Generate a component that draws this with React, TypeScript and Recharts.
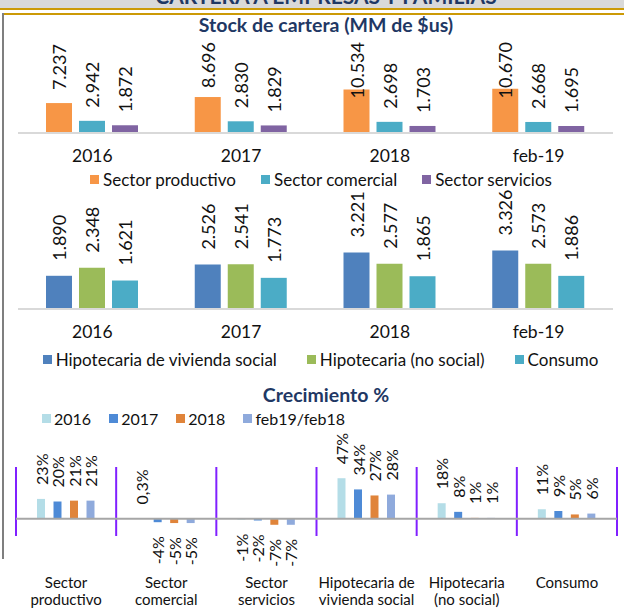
import React from 'react';
import { BarChart, Bar, XAxis, YAxis, CartesianGrid, ReferenceLine, LabelList } from 'recharts';

const FONT = 'Lato, "Open Sans", sans-serif';

// Stock de cartera (MM de $us)
const YEARS = ['2016', '2017', '2018', 'feb-19'];
const SECTOR_PRODUCTIVO = [7237, 8696, 10534, 10670];
const SECTOR_COMERCIAL = [2942, 2830, 2698, 2668];
const SECTOR_SERVICIOS = [1872, 1829, 1703, 1695];

const HIPOTECARIA_SOCIAL = [1890, 2526, 3221, 3326];
const HIPOTECARIA_NO_SOCIAL = [2348, 2541, 2577, 2573];
const CONSUMO = [1621, 1773, 1865, 1886];

// Crecimiento %
const CREC_CATS = [
  'Sector\nproductivo',
  'Sector\ncomercial',
  'Sector\nservicios',
  'Hipotecaria de\nvivienda social',
  'Hipotecaria\n(no social)',
  'Consumo',
];
const CREC_2016 = [23, 0.3, -1, 47, 18, 11];
const CREC_2017 = [20, -4, -2, 34, 8, 9];
const CREC_2018 = [21, -5, -7, 27, 1, 5];
const CREC_FEB = [21, -5, -7, 28, 1, 6];

const empresas = [
  { key: 'prod', name: 'Sector productivo', color: '#F79646', values: SECTOR_PRODUCTIVO },
  { key: 'com', name: 'Sector comercial', color: '#4BACC6', values: SECTOR_COMERCIAL },
  { key: 'serv', name: 'Sector servicios', color: '#8064A2', values: SECTOR_SERVICIOS },
];
const familias = [
  { key: 'social', name: 'Hipotecaria de vivienda social', color: '#4F81BD', values: HIPOTECARIA_SOCIAL },
  { key: 'noSocial', name: 'Hipotecaria (no social)', color: '#9BBB59', values: HIPOTECARIA_NO_SOCIAL },
  { key: 'consumo', name: 'Consumo', color: '#4BACC6', values: CONSUMO },
];
const crecimiento = [
  { key: 'y2016', name: '2016', color: '#B4DDE7', values: CREC_2016 },
  { key: 'y2017', name: '2017', color: '#4E8AD6', values: CREC_2017 },
  { key: 'y2018', name: '2018', color: '#E0843A', values: CREC_2018 },
  { key: 'feb', name: 'feb19/feb18', color: '#8FAADC', values: CREC_FEB },
];

const buildRows = (cats: string[], series: any[], catKey: string) =>
  cats.map((c, i) => {
    const row: any = { [catKey]: c };
    series.forEach((s) => (row[s.key] = s.values[i]));
    return row;
  });

const empresasData = buildRows(YEARS, empresas, 'year');
const familiasData = buildRows(YEARS, familias, 'year');
const crecData = buildRows(CREC_CATS, crecimiento, 'cat');

const fmtMiles = (v: number) => `${Math.floor(v / 1000)}.${String(v % 1000).padStart(3, '0')}`;
const fmtPct = (v: number) => `${String(v).replace('.', ',')}%`;

// rotated value label; clampTop keeps the text inside the plot top
const makeLabel = (fmt: (v: number) => string, gap: number, fontSize: number, clampTop?: number) =>
  (props: any) => {
    const x = Number(props.x);
    const y = Number(props.y);
    const w = Number(props.width);
    const h = Number(props.height);
    const v = Number(props.value);
    const cx = x + w / 2;
    const top = Math.min(y, y + h);
    const bottom = Math.max(y, y + h);
    const s = fmt(v);
    let ay = v >= 0 ? top - gap : bottom + gap;
    let anchor = v >= 0 ? 'start' : 'end';
    if (clampTop != null && v >= 0 && ay - s.length * fontSize * 0.52 < clampTop) {
      ay = clampTop;
      anchor = 'end';
    }
    return (
      <text
        transform={`translate(${cx},${ay}) rotate(-90)`}
        textAnchor={anchor}
        dominantBaseline="central"
        fontSize={fontSize}
        fontFamily={FONT}
        fill="#111"
      >
        {s}
      </text>
    );
  };

const CatTick = (props: any) => {
  const { x, y, payload } = props;
  const lines = String(payload.value).split('\n');
  return (
    <text x={x} y={y + 52} textAnchor="middle" fontSize={15} fontFamily={FONT} fill="#111">
      {lines.map((l, i) => (
        <tspan key={i} x={x} dy={i === 0 ? 0 : 17}>
          {l}
        </tspan>
      ))}
    </text>
  );
};

const LegendRow = ({ items, top, left, width, justify, gap, fontSize, sq = 9, sqGap = 4 }: any) => (
  <div
    style={{
      position: 'absolute',
      top,
      left,
      width,
      height: 20,
      display: 'flex',
      justifyContent: justify,
      alignItems: 'center',
      gap,
      fontSize,
      color: '#111',
      whiteSpace: 'nowrap',
    }}
  >
    {items.map((it: any) => (
      <div key={it.key} style={{ display: 'flex', alignItems: 'center' }}>
        <span style={{ width: sq, height: sq, background: it.color, marginRight: sqGap, display: 'inline-block' }} />
        {it.name}
      </div>
    ))}
  </div>
);

const titleStyle: React.CSSProperties = {
  position: 'absolute',
  left: 0,
  width: 652,
  textAlign: 'center',
  fontSize: 19.5,
  lineHeight: '20px',
  fontWeight: 700,
  color: '#1F3864',
  whiteSpace: 'nowrap',
};

const tickStyle = { fontSize: 17.5, fill: '#111', fontFamily: FONT };

const App: React.FC = () => {
  const EMP_TOP = 42;
  return (
    <div
      style={{
        position: 'absolute',
        left: 0,
        top: 0,
        width: 624,
        height: 610,
        background: '#fff',
        fontFamily: FONT,
        overflow: 'hidden',
      }}
    >
      {/* page header band */}
      <div style={{ position: 'absolute', left: 0, top: 0, width: 624, height: 8, background: '#D9D9D9', overflow: 'hidden' }}>
        <div
          style={{
            position: 'absolute',
            left: 0,
            top: -14.6,
            width: 652,
            textAlign: 'center',
            fontSize: 21,
            lineHeight: '21px',
            fontWeight: 700,
            color: '#1F3864',
            whiteSpace: 'nowrap',
          }}
        >
          CARTERA A EMPRESAS Y FAMILIAS
        </div>
      </div>
      <div style={{ position: 'absolute', left: 0, top: 8, width: 624, height: 2, background: '#CC9A06' }} />
      <div style={{ position: 'absolute', left: 2, top: 13, width: 622, height: 2, background: '#CC9A06' }} />
      <div style={{ position: 'absolute', left: 2, top: 13, width: 2, height: 546, background: '#7F7F7F' }} />

      <div style={{ ...titleStyle, top: 15 }}>Stock de cartera (MM de $us)</div>

      <div style={{ position: 'absolute', left: 0, top: 0 }}>
        <BarChart
          width={624}
          height={175}
          data={empresasData}
          margin={{ top: EMP_TOP, right: 11, left: 18, bottom: 0 }}
          barSize={26}
          barGap={7}
        >
          <XAxis
            dataKey="year"
            height={42}
            interval={0}
            tickLine={false}
            tickSize={0}
            tickMargin={17}
            axisLine={{ stroke: '#D9D9D9', strokeWidth: 2 }}
            tick={tickStyle}
          />
          <YAxis hide domain={[0, 22000]} />
          {empresas.map((s) => (
            <Bar key={s.key} dataKey={s.key} name={s.name} fill={s.color} isAnimationActive={false}>
              <LabelList dataKey={s.key} content={makeLabel(fmtMiles, 13, 18, EMP_TOP)} />
            </Bar>
          ))}
        </BarChart>
      </div>
      <LegendRow items={empresas} top={169} left={0} width={642} justify="center" gap={25} fontSize={17} />

      <div style={{ position: 'absolute', left: 0, top: 180 }}>
        <BarChart
          width={624}
          height={170}
          data={familiasData}
          margin={{ top: 6, right: 11, left: 18, bottom: 0 }}
          barSize={26}
          barGap={7}
        >
          <XAxis
            dataKey="year"
            height={41}
            interval={0}
            tickLine={false}
            tickSize={0}
            tickMargin={17}
            axisLine={{ stroke: '#D9D9D9', strokeWidth: 2 }}
            tick={tickStyle}
          />
          <YAxis hide domain={[0, 7000]} />
          {familias.map((s) => (
            <Bar key={s.key} dataKey={s.key} name={s.name} fill={s.color} isAnimationActive={false}>
              <LabelList dataKey={s.key} content={makeLabel(fmtMiles, 15, 18)} />
            </Bar>
          ))}
        </BarChart>
      </div>
      <LegendRow items={familias} top={349} left={0} width={641} justify="center" gap={30} fontSize={17} />

      <div style={{ ...titleStyle, top: 385 }}>Crecimiento %</div>
      <LegendRow items={crecimiento} top={408.5} left={42} width={500} justify="flex-start" gap={18} fontSize={16} sqGap={3} />

      <div style={{ position: 'absolute', left: 0, top: 380 }}>
        <BarChart
          width={624}
          height={230}
          data={crecData}
          margin={{ top: 87, right: 7, left: 16, bottom: 0 }}
          barSize={8}
          barGap={8.5}
        >
          <CartesianGrid
            horizontal={false}
            stroke="#8020FF"
            strokeWidth={2}
            verticalCoordinatesGenerator={({ offset }: any) =>
              Array.from({ length: CREC_CATS.length + 1 }, (_, i) => offset.left + (i * offset.width) / CREC_CATS.length)
            }
          />
          <XAxis
            dataKey="cat"
            height={74}
            interval={0}
            axisLine={false}
            tickLine={false}
            tickSize={0}
            tickMargin={0}
            tick={<CatTick />}
          />
          <YAxis hide domain={[-20, 60]} />
          <ReferenceLine y={0} stroke="#A6A6A6" strokeWidth={2} />
          {crecimiento.map((s) => (
            <Bar key={s.key} dataKey={s.key} name={s.name} fill={s.color} isAnimationActive={false}>
              <LabelList dataKey={s.key} content={makeLabel(fmtPct, 14, 16)} />
            </Bar>
          ))}
        </BarChart>
      </div>
    </div>
  );
};

export default App;
